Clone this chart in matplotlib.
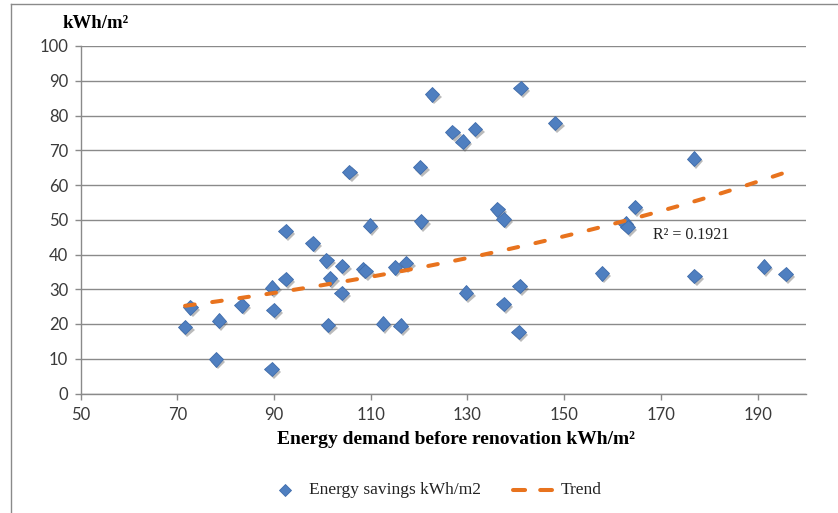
import matplotlib
matplotlib.use("Agg")
import matplotlib.pyplot as plt
import matplotlib.patheffects as pe
from matplotlib.lines import Line2D
import numpy as np

# Data
demand = [105.6, 92.4, 98.0, 100.8, 104.1, 92.4, 101.6, 89.6, 104.0, 72.7,
          83.3, 89.9, 71.6, 78.6, 101.2, 78.0, 89.5, 122.7, 141.0, 148.1,
          126.9, 129.0, 131.6, 120.2, 109.8, 120.4, 136.2, 137.5, 108.4, 108.9,
          115.0, 117.3, 129.7, 137.5, 140.8, 112.5, 116.2, 140.6, 176.8, 164.6,
          162.7, 163.1, 157.8, 176.9, 191.3, 195.8]
savings = [63.8, 46.8, 43.2, 38.3, 36.7, 33.0, 33.1, 30.5, 28.9, 24.8,
           25.4, 24.0, 19.1, 21.0, 19.7, 9.8, 7.0, 86.1, 87.9, 77.9,
           75.2, 72.5, 76.1, 65.2, 48.3, 49.5, 53.0, 50.1, 35.8, 35.2,
           36.3, 37.6, 29.0, 25.8, 31.0, 20.1, 19.5, 17.7, 67.6, 53.7,
           48.9, 47.9, 34.6, 33.8, 36.5, 34.4]
# exponential trend y = a * exp(b * x) (coefficients read from the drawn trend)
trend_a = 14.8
trend_b = 0.00745
r2_text = "R\u00b2 = 0.1921"
x_ticks = [50, 70, 90, 110, 130, 150, 170, 190]
y_ticks = [0, 10, 20, 30, 40, 50, 60, 70, 80, 90, 100]
legend_labels = ['Energy savings kWh/m2', 'Trend']

serif = ['Liberation Serif', 'DejaVu Serif']
plt.rcParams['font.family'] = serif

W, H = 838, 513
fig = plt.figure(figsize=(W / 100, H / 100), dpi=100)
ax = fig.add_axes([80.6 / W, 1 - 393.5 / H, (806 - 80.6) / W, (393.5 - 46) / H])

blue = '#4F7FC0'
edge = '#3F6CAB'
orange = '#E8731E'
grid_c = '#8A8A8A'
dash = (0, (2.4, 4.4))

ax.set_xlim(50, 200)
ax.set_ylim(0, 100)
ax.set_xticks(x_ticks)
ax.set_yticks(y_ticks)

ax.grid(axis='y', color=grid_c, lw=1.0)
ax.set_axisbelow(True)
for s in ['top', 'right']:
    ax.spines[s].set_visible(False)
for s in ['left', 'bottom']:
    ax.spines[s].set_color(grid_c)
    ax.spines[s].set_linewidth(1.0)
ax.tick_params(axis='both', colors=grid_c, labelcolor='#3a3a3a', labelsize=12,
               direction='out', length=4, width=1.0)
ax.tick_params(axis='y', pad=5)
ax.tick_params(axis='x', pad=6)
for lab in ax.get_xticklabels() + ax.get_yticklabels():
    lab.set_family(['Lato', 'DejaVu Sans'])

shadow = [pe.SimplePatchShadow(offset=(1.6, -2.0), shadow_rgbFace='#555555', alpha=0.4), pe.Normal()]
ax.plot(demand, savings, linestyle='none', marker='D', markersize=7.4,
        markerfacecolor=blue, markeredgecolor=edge, markeredgewidth=0.6,
        path_effects=shadow, zorder=3)

tx = np.linspace(min(demand), max(demand), 200)
ax.plot(tx, trend_a * np.exp(trend_b * tx), color=orange, lw=2.9, linestyle=dash,
        dash_capstyle='round', zorder=4)

fig.text(653 / W, 1 - 235 / H, r2_text, fontsize=11.5, color='#222222', va='center', ha='left')

fig.text(62 / W, 1 - 24 / H, 'kWh/m\u00b2', fontsize=13.5, fontweight='bold', va='center', ha='left')
fig.text(456 / W, 1 - 439 / H, 'Energy demand before renovation kWh/m\u00b2', fontsize=14,
         fontweight='bold', va='center', ha='center')

# legend (Excel style, drawn at the bottom)
ly = 1 - 490 / H
fig.add_artist(Line2D([285 / W], [ly], transform=fig.transFigure, linestyle='none', marker='D',
                      markersize=6.5, markerfacecolor=blue, markeredgecolor=edge, markeredgewidth=0.6))
fig.text(309 / W, ly, legend_labels[0], fontsize=12.5, va='center', ha='left', color='#222222')
fig.add_artist(Line2D([513 / W, 552 / W], [ly, ly], transform=fig.transFigure, color=orange, lw=2.9,
                      linestyle=(0, (3.0, 3.75)), dash_capstyle='round'))
fig.text(561 / W, ly, legend_labels[1], fontsize=12.5, va='center', ha='left', color='#222222')

# outer frame lines
fig.add_artist(Line2D([11 / W, 1], [1 - 4 / H, 1 - 4 / H], transform=fig.transFigure, color=grid_c, lw=1.0))
fig.add_artist(Line2D([11 / W, 11 / W], [1 - 4 / H, 0], transform=fig.transFigure, color=grid_c, lw=1.0))

fig.savefig('out.png', dpi=100)
